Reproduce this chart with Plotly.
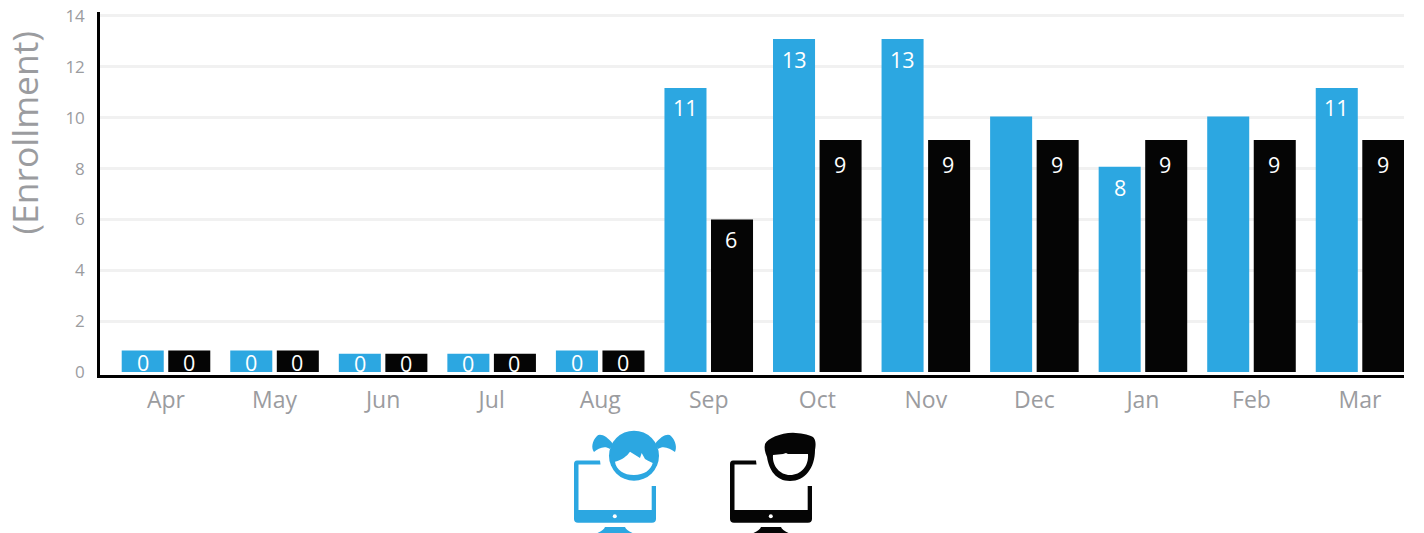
import plotly.graph_objects as go

months = ["Apr", "May", "Jun", "Jul", "Aug", "Sep", "Oct", "Nov", "Dec", "Jan", "Feb", "Mar"]
girls_height = [0.85, 0.85, 0.72, 0.72, 0.85, 11.17, 13.1, 13.1, 10.05, 8.07, 10.05, 11.17]
boys_height = [0.85, 0.85, 0.72, 0.72, 0.85, 6.0, 9.12, 9.12, 9.12, 9.12, 9.12, 9.12]
girls_labels = ["0", "0", "0", "0", "0", "11", "13", "13", "", "8", "", "11"]
boys_labels = ["0", "0", "0", "0", "0", "6", "9", "9", "9", "9", "9", "9"]
girls_label_y = [0.36, 0.36, 0.32, 0.32, 0.36, 10.42, 12.3, 12.3, 0, 7.24, 0, 10.42]
boys_label_y = [0.36, 0.36, 0.32, 0.32, 0.36, 5.2, 8.16, 8.16, 8.16, 8.16, 8.16, 8.16]
y_ticks = [0, 2, 4, 6, 8, 10, 12, 14]

BLUE = "#2CA7E1"
BLACK = "#050505"
GREY = "#9B9C9F"
W, H = 1424, 533
L, R, T, B = 100, 1404, 12, 375


def px(x):
    return (x - L) / (R - L)


def py(y):
    return (B - y) / (B - T)


def path(cmds):
    out = []
    for c in cmds:
        op, pts = c[0], c[1:]
        out.append(op + " ".join(f"{px(pts[i]):.5f},{py(pts[i+1]):.5f}" for i in range(0, len(pts), 2)))
    return " ".join(out) + " Z"


def shp(cmds, color, dx=0):
    shifted = [(c[0],) + tuple(v + dx if i % 2 == 0 else v for i, v in enumerate(c[1:])) for c in cmds]
    return dict(type="path", xref="paper", yref="paper", path=path(shifted), fillcolor=color,
                line=dict(width=0), layer="above")


def circle(cx, cy, r, color):
    return dict(type="circle", xref="paper", yref="paper", x0=px(cx - r), x1=px(cx + r),
                y0=py(cy + r), y1=py(cy - r), fillcolor=color, line=dict(width=0), layer="above")


# computer monitor outline (girl position; boy is the same shifted by 156 px)
monitor = [("M", 600, 460.5), ("L", 577, 460.5), ("Q", 574, 460.5, 574, 464), ("L", 574, 519),
           ("Q", 574, 522.7, 578, 522.7), ("L", 652, 522.7), ("Q", 656, 522.7, 656, 519),
           ("L", 656, 486), ("L", 651.7, 486), ("L", 651.7, 510), ("L", 578.5, 510),
           ("L", 578.5, 464.5), ("L", 600.5, 464.5)]
stand = [("M", 597.5, 533), ("Q", 604, 530, 605, 527), ("L", 625, 527), ("Q", 626, 530, 632.5, 533)]

girl_left_tail = [("M", 613, 444), ("C", 607, 436, 600, 433, 597, 436), ("C", 592, 441, 591, 448, 594, 452),
                  ("C", 598, 449, 604, 445, 610, 449)]
girl_right_tail = [("M", 655, 444), ("C", 661, 436, 668, 433, 671, 436), ("C", 676, 441, 677, 448, 675, 452),
                   ("C", 670, 449, 664, 445, 658, 449)]
girl_face = [("M", 615, 461.7), ("C", 622, 460, 627, 456, 630, 451.7), ("L", 640, 458), ("L", 641.7, 453),
             ("L", 645, 459), ("L", 648, 460.7), ("L", 652.7, 463),
             ("C", 651, 470, 644, 475, 634, 475), ("C", 624, 475, 616, 470, 615, 461.7)]

boy_hair = [("M", 765, 444), ("C", 768, 438, 780, 433, 793, 432.7), ("C", 800, 433, 808, 434, 813, 437),
            ("C", 816, 440, 816, 445, 815, 450), ("C", 815, 468, 805, 481, 790, 481),
            ("C", 776, 481, 769, 470, 767, 457), ("C", 765, 452, 764, 448, 765, 444)]
boy_face = [("M", 773, 455), ("L", 783, 454), ("L", 786, 453), ("L", 788, 454), ("L", 808, 454),
            ("C", 809, 466, 801, 475, 790, 475), ("C", 780, 475, 772, 466, 773, 455)]

shapes = [
    shp(monitor, BLUE), shp(stand, BLUE), circle(614.8, 516.3, 2, "white"),
    shp(girl_left_tail, BLUE), shp(girl_right_tail, BLUE),
    circle(634, 455.7, 25, BLUE), shp(girl_face, "white"),
    shp(monitor, BLACK, 156), shp(stand, BLACK, 156), circle(770.8, 516.3, 2, "white"),
    shp(boy_hair, BLACK), shp(boy_face, "white"),
]

fig = go.Figure()
fig.add_trace(go.Bar(x=months, y=girls_height, name="Girls", marker=dict(color=BLUE, line=dict(width=0)),
                     hoverinfo="skip"))
fig.add_trace(go.Bar(x=months, y=boys_height, name="Boys", marker=dict(color=BLACK, line=dict(width=0)),
                     hoverinfo="skip"))

notes = [dict(text="(Enrollment)", textangle=-90, xref="paper", yref="paper", x=px(23.5), y=py(133),
              xanchor="center", yanchor="middle", showarrow=False,
              font=dict(family="Open Sans", size=35.5, color=GREY))]
for labels, label_y, shift in ((girls_labels, girls_label_y, -23.25), (boys_labels, boys_label_y, 22.5)):
    for month, label, ly in zip(months, labels, label_y):
        if label:
            notes.append(dict(text=label, x=month, y=ly, xref="x", yref="y", xshift=shift, showarrow=False,
                              xanchor="center", yanchor="middle",
                              font=dict(family="Open Sans", size=21.5, color="white")))

fig.update_layout(
    width=W, height=H, showlegend=False, barmode="group", bargap=0.1425, bargroupgap=0.097,
    paper_bgcolor="white", plot_bgcolor="white", font=dict(family="Open Sans", color=GREY),
    margin=dict(l=L, r=W - R, t=T, b=H - B, autoexpand=False),
    xaxis=dict(type="category", range=[-0.608, 11.405], showgrid=False, showline=True, linecolor="black",
               linewidth=2.5, ticks="outside", ticklen=3, tickcolor="rgba(0,0,0,0)",
               tickfont=dict(family="Open Sans", size=23, color=GREY), zeroline=False),
    yaxis=dict(range=[-0.118, 14.157], tickvals=y_ticks, showgrid=True, gridcolor="#F1F1F1", gridwidth=3,
               zeroline=True, zerolinecolor="white", zerolinewidth=1, showline=True, linecolor="black",
               linewidth=2.5, ticks="outside", ticklen=9, tickcolor="rgba(0,0,0,0)",
               tickfont=dict(family="Open Sans", size=17, color=GREY)),
    shapes=shapes,
    annotations=notes,
)
fig.write_html("out.html", config={"displayModeBar": False},
               post_script="document.body.style.margin='0';document.body.style.overflow='hidden';")
